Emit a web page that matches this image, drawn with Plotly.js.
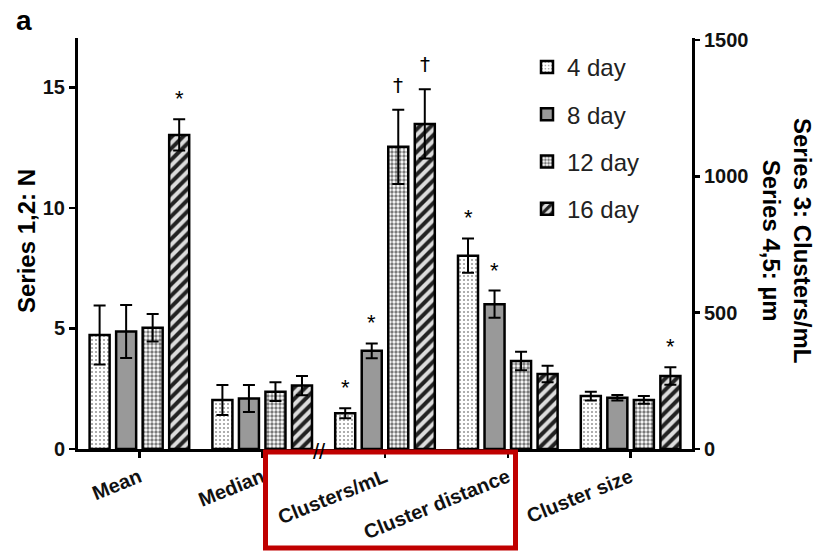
<!DOCTYPE html>
<html>
<head>
<meta charset="utf-8">
<script src="https://cdn.plot.ly/plotly-3.0.1.min.js"></script>
<style>html,body{margin:0;padding:0;background:#fff;}#chart{width:815px;height:553px;}</style>
</head>
<body>
<div id="chart"></div>
<script>
// ---- data ----
const categories = ['Mean', 'Median', 'Clusters/mL', 'Cluster distance', 'Cluster size'];
const seriesNames = ['4 day', '8 day', '12 day', '16 day'];
const day4 = [4.73, 2.03, 131, 709, 194];
const day4Err = [1.22, 0.62, 18, 63, 16];
const day8 = [4.87, 2.10, 360, 531, 188];
const day8Err = [1.10, 0.56, 27, 50, 10];
const day12 = [5.03, 2.38, 1108, 323, 180];
const day12Err = [0.57, 0.39, 136, 34, 14];
const day16 = [13.03, 2.63, 1192, 275, 268];
const day16Err = [0.65, 0.40, 127, 30, 32];
const day4Sig = ['', '', '*', '*', ''];
const day8Sig = ['', '', '*', '*', ''];
const day12Sig = ['', '', '†', '', ''];
const day16Sig = ['*', '', '†', '', '*'];
const leftTicks = [0, 5, 10, 15];
const rightTicks = [0, 500, 1000, 1500];
const nLeft = 2; // first two categories use left axis

// ---- styling ----
const values = [day4, day8, day12, day16];
const errs = [day4Err, day8Err, day12Err, day16Err];
const sigs = [day4Sig, day8Sig, day12Sig, day16Sig];
const patterns = [
  {shape: '.', fgcolor: '#9a9a9a', bgcolor: '#ffffff', size: 4, solidity: 0.22},
  {shape: '', fgcolor: '#999999', bgcolor: '#999999'},
  {shape: '.', fgcolor: '#7a7a7a', bgcolor: '#ffffff', size: 4, solidity: 0.55},
  {shape: '/', fgcolor: '#222222', bgcolor: '#dddddd', size: 8, solidity: 0.5}
];
const fills = ['#ffffff', '#999999', '#ffffff', '#dddddd'];
const FONT = 'Liberation Sans, Arial, sans-serif';
const slot = 0.216, barW = 0.163;

const traces = [];
const annotations = [];
for (let s = 0; s < 4; s++) {
  const off = -2 * slot + s * slot + (slot - barW) / 2;
  const common = {
    type: 'bar',
    name: seriesNames[s],
    legendgroup: 'g' + s,
    width: barW,
    offset: off,
    marker: {color: fills[s], line: {color: '#000', width: 2.5}, pattern: patterns[s]},
    error_y: {type: 'data', visible: true, thickness: 2, width: 6, color: '#000'}
  };
  traces.push(Object.assign({}, common, {
    x: categories.slice(0, nLeft), y: values[s].slice(0, nLeft),
    error_y: Object.assign({}, common.error_y, {array: errs[s].slice(0, nLeft)}),
    yaxis: 'y', showlegend: true
  }));
  traces.push(Object.assign({}, common, {
    x: categories.slice(nLeft), y: values[s].slice(nLeft),
    error_y: Object.assign({}, common.error_y, {array: errs[s].slice(nLeft)}),
    yaxis: 'y2', showlegend: false
  }));
  for (let c = 0; c < categories.length; c++) {
    const t = sigs[s][c];
    if (!t) continue;
    const dag = t === '†';
    annotations.push({
      x: c + off + barW / 2, xref: 'x', xanchor: 'center',
      y: values[s][c] + errs[s][c], yref: c < nLeft ? 'y' : 'y2',
      text: t, showarrow: false, yanchor: 'bottom',
      yshift: dag ? 11 : 6,
      font: {family: dag ? 'DejaVu Sans, sans-serif' : FONT, size: dag ? 20 : 22, color: '#000'}
    });
  }
}

const L = 78, R = 692, T = 38, B = 449;
const px = v => (v - L) / (R - L);
const py = v => (B - v) / (B - T);

annotations.push(
  {text: 'a', xref: 'paper', yref: 'paper', x: px(14), y: py(20), xanchor: 'left', yanchor: 'middle',
   showarrow: false, font: {family: FONT, size: 28, weight: 'bold', color: '#000'}},
  {text: 'Series 1,2: N', xref: 'paper', yref: 'paper', x: px(27), y: py(241), textangle: -90,
   xanchor: 'center', yanchor: 'middle',
   showarrow: false, font: {family: FONT, size: 24, weight: 'bold', color: '#000'}},
  {text: 'Series 3: Clusters/mL<br>Series 4,5: µm', xref: 'paper', yref: 'paper', x: px(787), y: py(240), textangle: 90,
   xanchor: 'center', yanchor: 'middle',
   showarrow: false, font: {family: FONT, size: 24, weight: 'bold', color: '#000'}},
  {text: '//', xref: 'paper', yref: 'paper', x: px(319), y: py(451), xanchor: 'center', yanchor: 'middle', showarrow: false,
   font: {family: FONT, size: 22, color: '#000'}}
);

const layout = {
  width: 815, height: 553,
  margin: {l: L, r: 815 - R, t: T, b: 553 - B},
  paper_bgcolor: '#fff', plot_bgcolor: '#fff',
  font: {family: FONT, color: '#000'},
  showlegend: true,
  legend: {x: px(527), y: py(45), xanchor: 'left', yanchor: 'top', traceorder: 'grouped',
           tracegroupgap: 13, font: {family: FONT, size: 24, color: '#222'}, bgcolor: 'rgba(0,0,0,0)'},
  xaxis: {type: 'category', categoryorder: 'array', categoryarray: categories, range: [-0.5, 4.5],
          showline: true, linewidth: 3, linecolor: '#000', ticks: 'outside', ticklen: 6, tickwidth: 2.5, tickcolor: '#000',
          tickangle: -22, tickfont: {family: FONT, size: 20, weight: 'bold', color: '#111'}, showgrid: false, zeroline: false},
  yaxis: {range: [0, 17.05], tickvals: leftTicks, showline: true, linewidth: 3, linecolor: '#000',
          ticks: 'outside', ticklen: 6, tickwidth: 2.5, tickcolor: '#000', showgrid: false, zeroline: false,
          tickfont: {family: FONT, size: 20, weight: 'bold', color: '#111'}},
  yaxis2: {range: [0, 1507], tickvals: rightTicks, overlaying: 'y', side: 'right', anchor: 'x',
           showline: true, linewidth: 3, linecolor: '#000', ticks: 'outside', ticklen: 5, tickwidth: 2.5, tickcolor: '#000',
           showgrid: false, zeroline: false, tickfont: {family: FONT, size: 20, weight: 'bold', color: '#111'}},
  shapes: [
    {type: 'rect', xref: 'paper', yref: 'paper', x0: px(265.5), x1: px(515.5), y0: py(452), y1: py(548),
     line: {color: '#c00000', width: 5}}
  ],
  annotations: annotations
};

Plotly.newPlot('chart', traces, layout, {displayModeBar: false, staticPlot: true});
</script>
</body>
</html>
